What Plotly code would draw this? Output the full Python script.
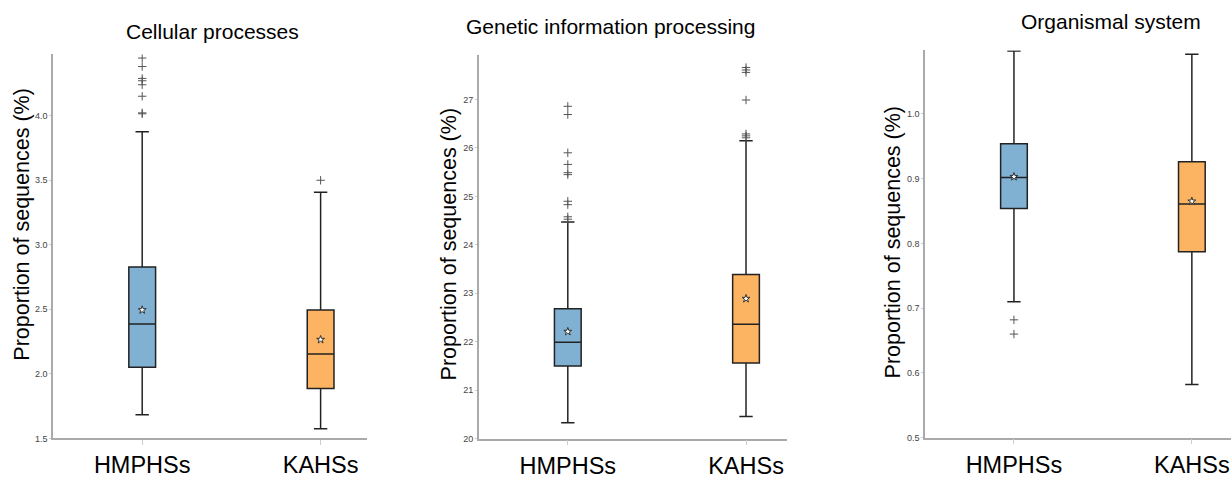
import plotly.graph_objects as go

groups = ["HMPHSs", "KAHSs"]
titles = ["Cellular processes", "Genetic information processing", "Organismal system"]
y_title = "Proportion of sequences (%)"

# Cellular processes
cell_q1 = [2.052, 1.886]
cell_med = [2.387, 2.154]
cell_q3 = [2.827, 2.495]
cell_lo = [1.684, 1.574]
cell_hi = [3.875, 3.407]
cell_mean = [2.495, 2.265]
cell_out_h = [4.447, 4.381, 4.289, 4.271, 4.240, 4.151, 4.022, 4.015]
cell_out_k = [3.50]

# Genetic information processing
gen_q1 = [21.50, 21.56]
gen_med = [21.99, 22.36]
gen_q3 = [22.68, 23.39]
gen_lo = [20.33, 20.46]
gen_hi = [24.47, 26.15]
gen_mean = [22.21, 22.89]
gen_out_h = [26.86, 26.69, 25.90, 25.66, 25.49, 25.45, 24.90, 24.83, 24.58, 24.53]
gen_out_k = [27.66, 27.61, 27.56, 26.99, 26.29, 26.25, 26.21]

# Organismal system
org_q1 = [0.854, 0.787]
org_med = [0.902, 0.861]
org_q3 = [0.954, 0.926]
org_lo = [0.710, 0.582]
org_hi = [1.097, 1.092]
org_mean = [0.903, 0.865]
org_out_h = [0.682, 0.660]
org_out_k = []

y_ticks = [
    [1.5, 2.0, 2.5, 3.0, 3.5, 4.0],
    [20, 21, 22, 23, 24, 25, 26, 27],
    [0.5, 0.6, 0.7, 0.8, 0.9, 1.0],
]
y_tickformat = [".1f", "d", ".1f"]
y_ranges = [[1.5, 4.475], [20, 27.91], [0.5, 1.098]]

colors = ["#80b1d3", "#fdb462"]

W, H = 1231, 480
x_dom_px = [(53, 367), (478.7, 787), (925, 1231)]
y_dom_px = [(443, 55), (443.3, 56), (442.3, 51)]
x_ranges = [[-0.5, 1.26], [-0.5, 1.23], [-0.5, 1.22]]

panels = [
    (cell_q1, cell_med, cell_q3, cell_lo, cell_hi, cell_mean, cell_out_h, cell_out_k),
    (gen_q1, gen_med, gen_q3, gen_lo, gen_hi, gen_mean, gen_out_h, gen_out_k),
    (org_q1, org_med, org_q3, org_lo, org_hi, org_mean, org_out_h, org_out_k),
]

fig = go.Figure()
for p, (q1, med, q3, lo, hi, mean, oh, ok) in enumerate(panels):
    xa = "x" if p == 0 else f"x{p+1}"
    ya = "y" if p == 0 else f"y{p+1}"
    for g in range(2):
        fig.add_trace(go.Box(
            x=[g], q1=[q1[g]], median=[med[g]], q3=[q3[g]],
            lowerfence=[lo[g]], upperfence=[hi[g]],
            width=0.15, whiskerwidth=0.5,
            fillcolor=colors[g], line=dict(color="#222222", width=1.5),
            boxpoints=False, xaxis=xa, yaxis=ya, showlegend=False,
            hoverinfo="skip",
        ))
    for g, outs in enumerate([oh, ok]):
        if outs:
            fig.add_trace(go.Scatter(
                x=[g] * len(outs), y=outs, mode="markers",
                marker=dict(symbol="cross-thin-open", size=6, color="#555555",
                            line=dict(color="#555555", width=1)),
                xaxis=xa, yaxis=ya, showlegend=False, hoverinfo="skip",
            ))
    fig.add_trace(go.Scatter(
        x=[0, 1], y=mean, mode="markers",
        marker=dict(symbol="star", size=6, color="white",
                    line=dict(color="#333333", width=1)),
        xaxis=xa, yaxis=ya, showlegend=False, hoverinfo="skip",
    ))

layout = dict(
    width=W, height=H, margin=dict(l=0, r=0, t=0, b=0),
    plot_bgcolor="white", paper_bgcolor="white",
    font=dict(family="Liberation Sans, Arial, sans-serif", color="#000"),
    showlegend=False,
)
for p in range(3):
    xk = "xaxis" if p == 0 else f"xaxis{p+1}"
    yk = "yaxis" if p == 0 else f"yaxis{p+1}"
    ya_anchor = "y" if p == 0 else f"y{p+1}"
    xa_anchor = "x" if p == 0 else f"x{p+1}"
    layout[xk] = dict(
        domain=[x_dom_px[p][0] / W, x_dom_px[p][1] / W],
        anchor=ya_anchor, range=x_ranges[p],
        tickvals=[0, 1], ticktext=groups,
        tickfont=dict(size=23.5, color="#000"),
        showline=True, linecolor="#aaaaaa", linewidth=1.5,
        ticks="outside", ticklen=5, tickcolor="#cccccc",
        showgrid=False, zeroline=False,
    )
    layout[yk] = dict(
        domain=[1 - y_dom_px[p][0] / H, 1 - y_dom_px[p][1] / H],
        anchor=xa_anchor, range=y_ranges[p],
        tickvals=y_ticks[p], tickformat=y_tickformat[p],
        tickfont=dict(size=9, color="#444"),
        showline=True, linecolor="#aaaaaa", linewidth=1.5,
        ticks="outside", ticklen=2, tickcolor="#cccccc",
        showgrid=False, zeroline=False,
    )

title_pos = [(212, 32), (610, 27), (1111, 22)]
ytitle_pos = [(22, 227), (449, 247), (893, 245)]
annotations = [
    dict(text=titles[i], x=title_pos[i][0] / W, y=1 - title_pos[i][1] / H,
         xref="paper", yref="paper", xanchor="center", yanchor="middle",
         showarrow=False, font=dict(size=21, color="#000"))
    for i in range(3)
]
annotations += [
    dict(text=y_title, x=ytitle_pos[i][0] / W, y=1 - ytitle_pos[i][1] / H,
         xref="paper", yref="paper", xanchor="center", yanchor="middle",
         textangle=-90, showarrow=False, font=dict(size=21.5, color="#000"))
    for i in range(3)
]
layout["annotations"] = annotations
fig.update_layout(**layout)
fig.write_html("out.html")
